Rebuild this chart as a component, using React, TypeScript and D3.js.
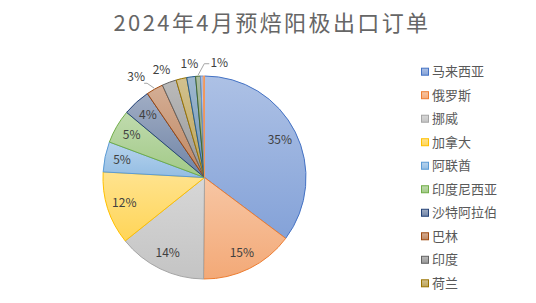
import React from "react";
import * as d3 from "d3";

const categories = ["马来西亚", "俄罗斯", "挪威", "加拿大", "阿联酋", "印度尼西亚", "沙特阿拉伯", "巴林", "印度", "荷兰", "其他1", "其他2", "其他3", "其他4"];
const values = [35.2, 14.9, 14.1, 11.6, 4.8, 5.4, 4.4, 2.7, 2.3, 1.7, 1.4, 0.8, 0.4, 0.2];
const colors = ["#4472C4", "#ED7D31", "#A5A5A5", "#FFC000", "#5B9BD5", "#70AD47", "#264478", "#9E480E", "#636363", "#997300", "#255E91", "#43682B", "#698ED0", "#F1975A"];
// label mode per slice: in = inside, out = outside, none = hidden
const labelModes = ["in", "in", "in", "in", "in", "in", "in", "out", "out", "none", "out", "out", "none", "none"];
const legendCount = 10;
const title = "2024年4月预焙阳极出口订单";

const W = 536, H = 303;
const cx = 204.5, cy = 177.5, R = 101.5;
const FONT = "'Noto Sans CJK SC', 'Noto Sans', sans-serif";

function mix(c: string, t: number) {
  return d3.interpolateRgb(c, "#ffffff")(t);
}

export default function App() {
  const total = d3.sum(values);
  const pie = d3.pie<number>().sort(null).value((d) => d);
  const arcs = pie(values);
  const arc = d3.arc<d3.PieArcDatum<number>>().innerRadius(0).outerRadius(R);
  const legendY = d3.scaleLinear().domain([0, legendCount - 1]).range([71.7, 283.3]);
  // manual nudges for crowded outside labels
  const outDx: Record<number, number> = { 7: -12, 8: -3, 11: 22 };

  return (
    <div style={{ position: "fixed", left: 0, top: 0, width: W, height: H, background: "#fff" }}>
      <svg width={W} height={H} style={{ display: "block" }} fontFamily={FONT}>
        <defs>
          {colors.map((c, i) => (
            <linearGradient key={i} id={`g${i}`} x1="0" y1="0" x2="0" y2="1">
              <stop offset="0" stopColor={mix(c, 0.56)} />
              <stop offset="1" stopColor={mix(c, 0.34)} />
            </linearGradient>
          ))}
        </defs>
        <rect width={W} height={H} fill="#fff" />
        <text x={272} y={30.5} textAnchor="middle" fontSize={22} letterSpacing={2.4} fill="#666666">{title}</text>
        <g transform={`translate(${cx},${cy})`}>
          {arcs.map((a, i) => (
            <path key={i} d={arc(a) || ""} fill={`url(#g${i})`} stroke={colors[i]} strokeWidth={1} strokeLinejoin="round" />
          ))}
          {arcs.map((a, i) => {
            const mode = labelModes[i];
            if (mode === "none") return null;
            const mid = (a.startAngle + a.endAngle) / 2;
            const txt = `${Math.round((values[i] / total) * 100)}%`;
            if (mode === "in") {
              const rho = R * 0.83;
              const x = Math.sin(mid) * rho, y = -Math.cos(mid) * rho;
              return <text key={"l" + i} x={x} y={y} dy="0.35em" textAnchor="middle" fontSize={12} fill="#404040">{txt}</text>;
            }
            const rho = R + 13.5;
            const dx = outDx[i] || 0;
            const x = Math.sin(mid) * rho + dx, y = -Math.cos(mid) * rho;
            const ex = Math.sin(mid) * (R + 1), ey = -Math.cos(mid) * (R + 1);
            let leader = null;
            if (i === 7) {
              leader = <polyline points={`${x + 8},${y + 6} ${x + 11},${y + 6} ${ex},${ey}`} fill="none" stroke="#A6A6A6" strokeWidth={1} />;
            } else if (i === 11) {
              leader = <polyline points={`${x - 10},${y + 1} ${x - 15},${y + 1} ${ex},${ey}`} fill="none" stroke="#A6A6A6" strokeWidth={1} />;
            }
            return (
              <g key={"l" + i}>
                {leader}
                <text x={x} y={y} dy="0.35em" textAnchor="middle" fontSize={12} fill="#404040">{txt}</text>
              </g>
            );
          })}
        </g>
        <g>
          {categories.slice(0, legendCount).map((c, i) => (
            <g key={c} transform={`translate(421,${legendY(i)})`}>
              <rect x={0.5} y={-3.5} width={7} height={7} fill={`url(#g${i})`} stroke={colors[i]} strokeWidth={1} />
              <text x={11} y={0} dy="0.36em" fontSize={13} fill="#595959">{c}</text>
            </g>
          ))}
        </g>
      </svg>
    </div>
  );
}
